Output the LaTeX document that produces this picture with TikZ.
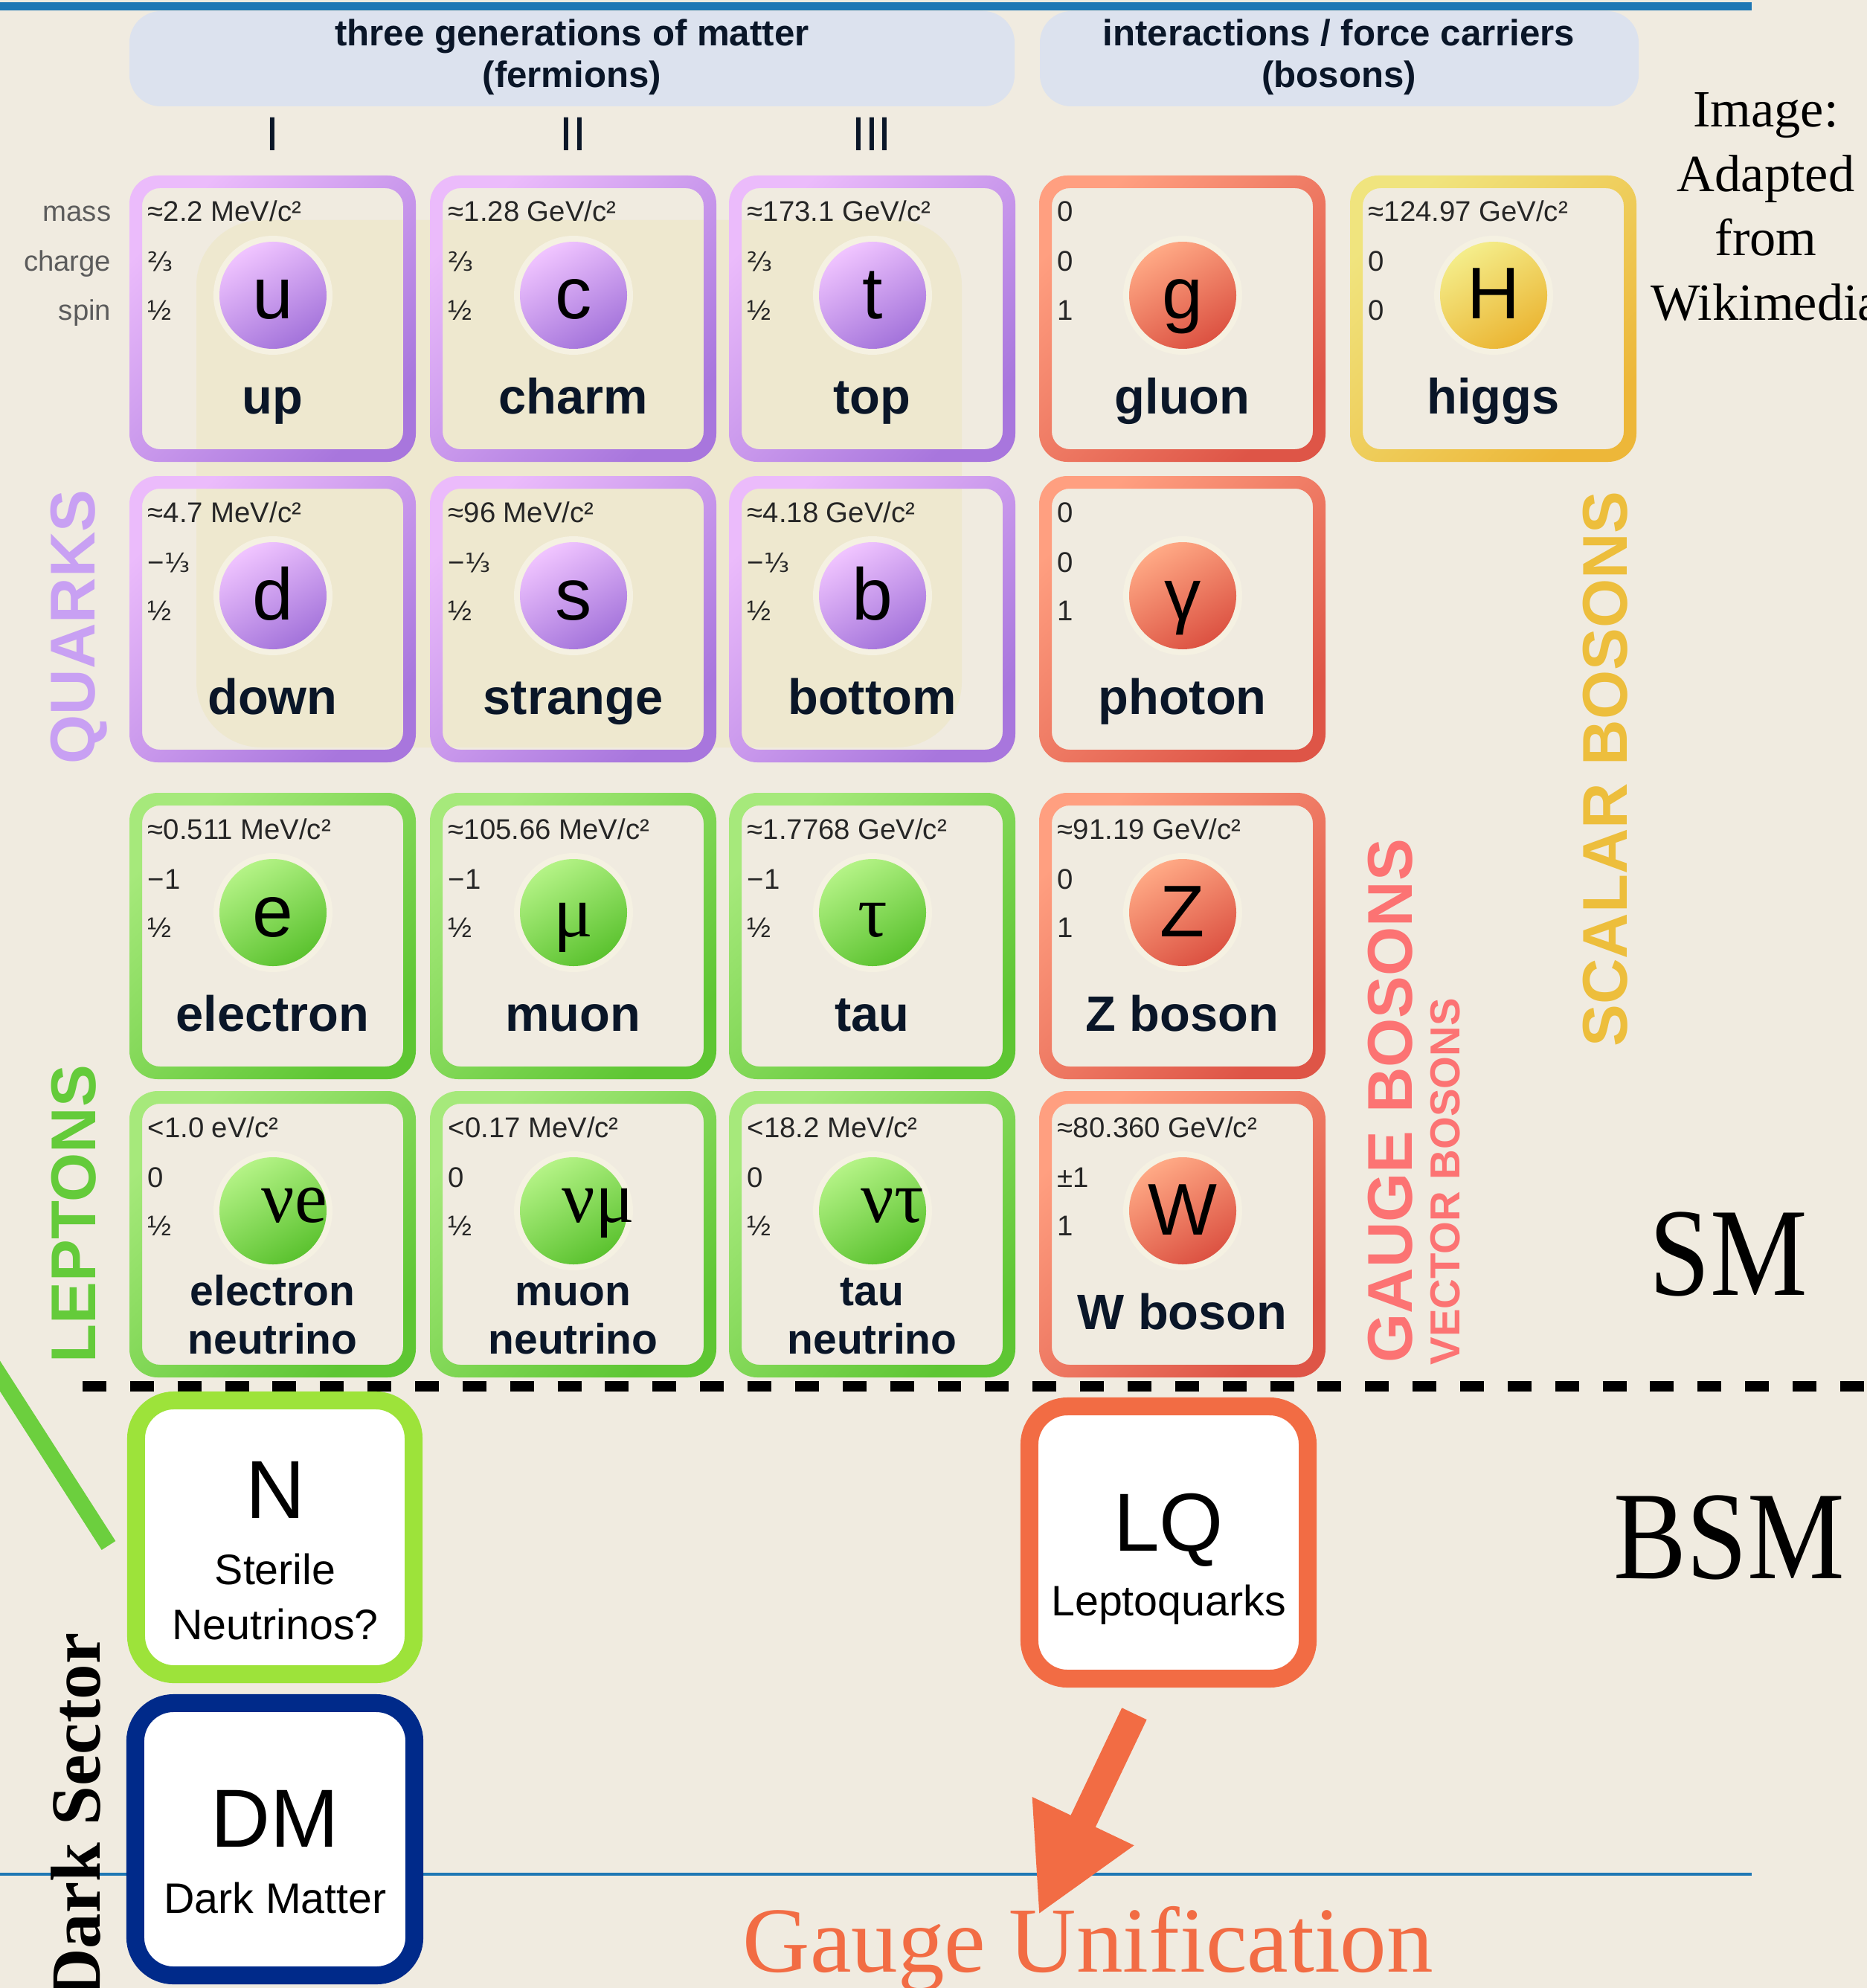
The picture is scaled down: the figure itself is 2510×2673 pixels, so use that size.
\documentclass[tikz,border=0pt]{standalone}
\usepackage{fontspec}
\setmainfont{Liberation Serif}
\newfontfamily\sans{Liberation Sans}
\newfontfamily\serif{Liberation Serif}
\newfontfamily\dejavu{DejaVu Sans}
\usetikzlibrary{arrows.meta}

\definecolor{bg}{HTML}{F0EBE0}
\definecolor{hdr}{HTML}{DCE2EE}
\definecolor{namec}{HTML}{0A1628}
\definecolor{valc}{HTML}{262626}
\definecolor{sidec}{HTML}{5C5C5C}
\definecolor{halo}{HTML}{F5F1E2}
\definecolor{yreg}{HTML}{EEE8CF}
\definecolor{quarkc}{HTML}{C8A0F3}
\definecolor{leptc}{HTML}{64CB3A}
\definecolor{gaugec}{HTML}{FC7373}
\definecolor{scalc}{HTML}{EDBE3C}
\definecolor{nboxc}{HTML}{9DE33A}
\definecolor{dmboxc}{HTML}{002A8A}
\definecolor{lqc}{HTML}{F26C44}
\definecolor{mplblue}{HTML}{1F77B4}
\definecolor{glinec}{HTML}{6CCF3E}
% box borders (L light, D dark) and circles (cL, cD)
\definecolor{qL}{HTML}{EBBBFB}\definecolor{qD}{HTML}{A876DD}
\definecolor{qcL}{HTML}{F0C4FF}\definecolor{qcD}{HTML}{A474DB}
\definecolor{lL}{HTML}{A6E97B}\definecolor{lD}{HTML}{5EC633}
\definecolor{lcL}{HTML}{B4F386}\definecolor{lcD}{HTML}{5BC22F}
\definecolor{gL}{HTML}{FF9F80}\definecolor{gD}{HTML}{DE5547}
\definecolor{gcL}{HTML}{FFA985}\definecolor{gcD}{HTML}{DC5242}
\definecolor{hL}{HTML}{F0E47E}\definecolor{hD}{HTML}{EDB739}
\definecolor{hcL}{HTML}{F4ED8A}\definecolor{hcD}{HTML}{EBB533}

\tikzset{
  val/.style={font=\sans\fontsize{10.9}{13}\selectfont, text=valc, inner sep=0pt, anchor=base west},
  side/.style={font=\sans\fontsize{10.9}{13}\selectfont, text=sidec, inner sep=0pt, anchor=base east},
  sym/.style={font=\sans\fontsize{28}{30}\selectfont, text=black, inner sep=0pt, anchor=base},
  pname/.style={font=\sans\bfseries\fontsize{19}{22}\selectfont, text=namec, inner sep=0pt, anchor=base},
  hdrt/.style={font=\sans\bfseries\fontsize{14}{16}\selectfont, text=namec, inner sep=0pt, anchor=base},
  roman/.style={font=\sans\fontsize{18.3}{20}\selectfont, text=namec, inner sep=0pt, anchor=base},
  vlabel/.style={font=\sans\bfseries\fontsize{24.2}{26}\selectfont, rotate=90, inner sep=0pt, anchor=base west},
  bsmbox/.style={draw, line width=6.83pt, fill=white, rounded corners=14.6pt, inner sep=0pt},
  bsmbig/.style={font=\sans\fontsize{31.5}{34}\selectfont, text=black, inner sep=0pt, anchor=base},
  bsmsmall/.style={font=\sans\fontsize{16.3}{18}\selectfont, text=black, inner sep=0pt, anchor=base},
  bigserif/.style={font=\serif\fontsize{48}{50}\selectfont, text=black, inner sep=0pt, anchor=base},
  imgt/.style={font=\serif\fontsize{20}{22}\selectfont, text=black, inner sep=0pt, anchor=base},
  dashline/.style={line width=4.2pt, dash pattern=on 9.08pt off 9.08pt, black},
  gline/.style={draw=glinec, line width=6.3pt},
  arr/.style={draw=lqc, line width=10.5pt, -{Triangle[length=39.8pt,width=40pt]}}
}

\newcommand\fr[1]{{\dejavu\fontsize{10}{12}\selectfont #1}}
\newcommand\nuS[1]{\rlap{\kern-4.3pt\raisebox{4.8pt}{\serif ν#1}}}
\newcommand\twol[2]{\raisebox{-9.4pt}{\parbox[b]{4cm}{\centering\fontsize{16.2}{18.5}\selectfont #1\\#2}}}

% #1 id, #2 x0, #3 y0, #4 family, #5 mass, #6 charge, #7 spin, #8 symbol, #9 name
\newcommand\particle[9]{%
  \shade[top color=#4L, bottom color=#4D, shading angle=45, even odd rule]
    [rounded corners=10.8pt] (#2,#3) rectangle (#2+385,#3+385)
    [rounded corners=6.8pt] (#2+17,#3+17) rectangle (#2+368,#3+368);
  \fill[halo] (#2+193,#3+161) circle[radius=80];
  \shade[top color=#4cL, bottom color=#4cD, shading angle=30] (#2+193,#3+161) circle[radius=72];
  \node[sym] (#1-sym) at (#2+193,#3+193) {#8};
  \node[val] (#1-m) at (#2+24,#3+62) {#5};
  \node[val] (#1-c) at (#2+24,#3+129) {#6};
  \node[val] (#1-s) at (#2+24,#3+194) {#7};
  \node[pname] (#1-n) at (#2+192.5,#3+320) {#9};
}

\begin{document}
\begin{tikzpicture}[x=0.01cm, y=-0.01cm]
\useasboundingbox (0,0) rectangle (2510,2673);
\clip (0,0) rectangle (2510,2673);
\fill[bg] (0,0) rectangle (2510,2673);

% blue rules
\fill[mplblue] (0,3) rectangle (2355,14);
\fill[mplblue] (0,2518) rectangle (2355,2522);

% faint strong-interaction region
\fill[yreg, rounded corners=25pt] (264,296) rectangle (1293,1005);

% headers
\fill[hdr, rounded corners=12pt] (174,15) rectangle (1364,143);
\fill[hdr, rounded corners=12pt] (1398,15) rectangle (2203,143);
\node[hdrt] (hf1) at (769,62) {three generations of matter};
\node[hdrt] (hf2) at (769,118) {(fermions)};
\node[hdrt] (hb1) at (1800,62) {interactions / force carriers};
\node[hdrt] (hb2) at (1800,118) {(bosons)};
\node[roman] (gI) at (366,203) {I};
\node[roman] (gII) at (770,203) {II};
\node[roman] (gIII) at (1172,203) {III};

% side labels
\node[side] (lmass) at (150,298) {mass};
\node[side] (lcharge) at (150,365) {charge};
\node[side] (lspin) at (150,430) {spin};

% particles
\particle{u}{174}{236}{q}{≈2.2 MeV/c²}{\fr{⅔}}{½}{u}{up}
\particle{c}{578}{236}{q}{≈1.28 GeV/c²}{\fr{⅔}}{½}{c}{charm}
\particle{t}{980}{236}{q}{≈173.1 GeV/c²}{\fr{⅔}}{½}{t}{top}
\particle{g}{1397}{236}{g}{0}{0}{1}{g}{gluon}
\particle{H}{1815}{236}{h}{≈124.97 GeV/c²}{0}{0}{H}{higgs}

\particle{d}{174}{640}{q}{≈4.7 MeV/c²}{−\fr{⅓}}{½}{d}{down}
\particle{s}{578}{640}{q}{≈96 MeV/c²}{−\fr{⅓}}{½}{s}{strange}
\particle{b}{980}{640}{q}{≈4.18 GeV/c²}{−\fr{⅓}}{½}{b}{bottom}
\particle{ph}{1397}{640}{g}{0}{0}{1}{γ}{photon}

\particle{e}{174}{1066}{l}{≈0.511 MeV/c²}{−1}{½}{e}{electron}
\particle{mu}{578}{1066}{l}{≈105.66 MeV/c²}{−1}{½}{{\serif μ}}{muon}
\particle{ta}{980}{1066}{l}{≈1.7768 GeV/c²}{−1}{½}{{\serif τ}}{tau}
\particle{Z}{1397}{1066}{g}{≈91.19 GeV/c²}{0}{1}{Z}{Z boson}

\particle{ve}{174}{1467}{l}{<1.0 eV/c²}{0}{½}{\nuS{e}}{\twol{electron}{neutrino}}
\particle{vm}{578}{1467}{l}{<0.17 MeV/c²}{0}{½}{\nuS{μ}}{\twol{muon}{neutrino}}
\particle{vt}{980}{1467}{l}{<18.2 MeV/c²}{0}{½}{\nuS{τ}}{\twol{tau}{neutrino}}
\particle{W}{1397}{1467}{g}{≈80.360 GeV/c²}{±1}{1}{W}{W boson}

% group labels
\node[vlabel, text=quarkc] (quarks) at (127,1028) {QUARKS};
\node[vlabel, text=leptc] (leptons) at (128,1833) {LEPTONS};
\node[vlabel, text=gaugec] (gauge) at (1898,1833) {GAUGE BOSONS};
\node[vlabel, text=gaugec, font=\sans\bfseries\fontsize{16}{18}\selectfont] (vector) at (1962,1836) {VECTOR BOSONS};
\node[vlabel, text=scalc] (scalar) at (2187,1408) {SCALAR BOSONS};

% SM / BSM separator
\coordinate (dl) at (111,1864);
\coordinate (dr) at (2540,1864);
\draw[dashline] (dl) -- (dr);

% green stroke at left
\coordinate (gtop) at (-20,1819);
\coordinate (gbot) at (146,2078);
\draw[gline] (gtop) -- (gbot);

% BSM boxes
\node[bsmbox, draw=nboxc, minimum width=106.1pt, minimum height=104.7pt] (nbox) at (369.5,2067) {};
\node[bsmbig] (N) at (370,2041) {N};
\node[bsmsmall] (Nt1) at (370,2130) {Sterile};
\node[bsmsmall] (Nt2) at (370,2204) {Neutrinos?};

\node[bsmbox, draw=dmboxc, minimum width=106.7pt, minimum height=104.1pt] (dmbox) at (369.5,2473) {};
\node[bsmbig] (DM) at (370,2483) {DM};
\node[bsmsmall] (DMt) at (370,2572) {Dark Matter};

\node[bsmbox, draw=lqc, minimum width=106.4pt, minimum height=104.1pt] (lq) at (1571,2074) {};
\node[bsmbig] (LQ) at (1571,2085) {LQ};
\node[bsmsmall] (LQt) at (1571,2172) {Leptoquarks};

% side texts
\node[font=\serif\bfseries\fontsize{27}{30}\selectfont, rotate=90, anchor=base east, inner sep=0pt] (ds) at (134,2195) {Dark Sector};
\node[bigserif, xscale=0.87] (sm) at (2324,1741) {SM};
\node[bigserif, xscale=0.87] (bsm) at (2325,2122) {BSM};
\node[imgt] (im1) at (2374,171) {Image:};
\node[imgt] (im2) at (2374,258) {Adapted};
\node[imgt] (im3) at (2374,344) {from};
\node[imgt] (im4) at (2374,430) {Wikimedia};

% gauge unification
\node[font=\serif\fontsize{35.6}{38}\selectfont, text=lqc, anchor=base west, inner sep=0pt] (gu) at (998,2651) {Gauge Unification};
\coordinate (tip) at (1396,2575);
\draw[arr] ([xshift=-13.1pt,yshift=-10pt]lq.south) -- (tip);
\end{tikzpicture}
\end{document}
